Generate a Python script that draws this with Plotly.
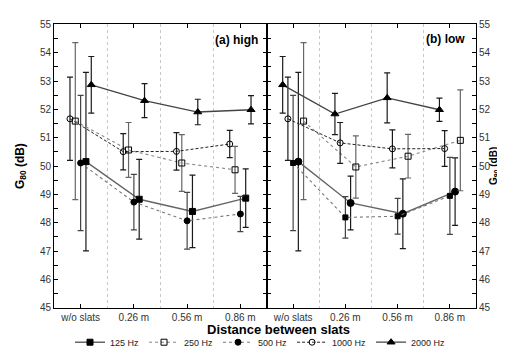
import plotly.graph_objects as go

W, H = 505, 349

categories = ["w/o slats", "0.26 m", "0.56 m", "0.86 m"]
freqs = ["125 Hz", "250 Hz", "500 Hz", "1000 Hz", "2000 Hz"]

# (a) high
high_125 = [50.16, 48.83, 48.40, 48.87]
high_125_err = [3.15, 1.41, 1.28, 1.03]
high_250 = [51.59, 50.57, 50.11, 49.87]
high_250_err = [2.77, 0.97, 1.00, 0.83]
high_500 = [50.11, 48.73, 48.07, 48.31]
high_500_err = [2.39, 0.98, 1.00, 0.62]
high_1000 = [51.67, 50.51, 50.52, 50.78]
high_1000_err = [1.47, 0.64, 0.66, 0.48]
high_2000 = [52.87, 52.31, 51.91, 51.99]
high_2000_err = [1.00, 0.60, 0.45, 0.50]

# (b) low
low_125 = [50.16, 48.70, 48.32, 49.10]
low_125_err = [3.15, 0.95, 1.23, 1.19]
low_250 = [51.59, 49.97, 50.35, 50.91]
low_250_err = [2.77, 1.10, 0.77, 1.78]
low_500 = [50.11, 48.19, 48.23, 48.95]
low_500_err = [2.39, 0.73, 0.63, 1.36]
low_1000 = [51.67, 50.82, 50.61, 50.62]
low_1000_err = [1.47, 0.72, 0.67, 0.63]
low_2000 = [52.87, 51.84, 52.41, 51.99]
low_2000_err = [1.00, 0.73, 0.88, 0.41]

high = {"125 Hz": (high_125, high_125_err), "250 Hz": (high_250, high_250_err),
        "500 Hz": (high_500, high_500_err), "1000 Hz": (high_1000, high_1000_err),
        "2000 Hz": (high_2000, high_2000_err)}
low = {"125 Hz": (low_125, low_125_err), "250 Hz": (low_250, low_250_err),
       "500 Hz": (low_500, low_500_err), "1000 Hz": (low_1000, low_1000_err),
       "2000 Hz": (low_2000, low_2000_err)}

# styles
line_style = {
    "125 Hz": dict(color="#666666", width=1.4, dash="solid"),
    "250 Hz": dict(color="#888888", width=1.1, dash="dot"),
    "500 Hz": dict(color="#777777", width=1.1, dash="dot"),
    "1000 Hz": dict(color="#222222", width=1.0, dash="3px,2px"),
    "2000 Hz": dict(color="#444444", width=1.3, dash="solid"),
}
err_color = {"125 Hz": "#1a1a1a", "250 Hz": "#666666", "500 Hz": "#444444",
             "1000 Hz": "#1a1a1a", "2000 Hz": "#1a1a1a"}
marker_high = {
    "125 Hz": dict(symbol="square", size=6, color="black"),
    "250 Hz": dict(symbol="square-open", size=6, color="black"),
    "500 Hz": dict(symbol="circle", size=6, color="black"),
    "1000 Hz": dict(symbol="circle-open", size=6, color="black"),
    "2000 Hz": dict(symbol="triangle-up", size=7, color="black"),
}
marker_low = {
    "125 Hz": dict(symbol="circle", size=7, color="black"),
    "250 Hz": dict(symbol="square-open", size=6, color="black"),
    "500 Hz": dict(symbol="square", size=5, color="black"),
    "1000 Hz": dict(symbol="circle-open", size=6, color="black"),
    "2000 Hz": dict(symbol="triangle-up", size=7, color="black"),
}
offs_high = {"1000 Hz": -0.2, "250 Hz": -0.1, "500 Hz": 0.0, "125 Hz": 0.1, "2000 Hz": 0.2}
offs_low = {"2000 Hz": -0.2, "1000 Hz": -0.1, "500 Hz": 0.0, "125 Hz": 0.1, "250 Hz": 0.2}

fig = go.Figure()
centers = [i + 0.5 for i in range(len(categories))]

for data, markers, offs, xa, ya, show in [
        (high, marker_high, offs_high, "x", "y", True),
        (low, marker_low, offs_low, "x2", "y2", False)]:
    for f in freqs:
        vals, errs = data[f]
        fig.add_trace(go.Scatter(
            x=[c + offs[f] for c in centers], y=vals,
            mode="lines+markers", name=f, legendgroup=f, showlegend=show,
            line=line_style[f],
            marker=dict(**markers[f], line=dict(color="black", width=1)),
            error_y=dict(type="data", array=errs, visible=True,
                         color=err_color[f], thickness=1.2, width=3),
            xaxis=xa, yaxis=ya))

ydom = [1 - 308 / H, 1 - 12 / H]
common_x = dict(range=[0, 4], tickmode="array", tickvals=centers, ticktext=categories,
                ticks="inside", ticklen=4, tickcolor="black", showline=True,
                linecolor="black", linewidth=1, mirror="ticks", showgrid=False,
                zeroline=False, tickfont=dict(size=10, color="#333333"),
                minor=dict(tickmode="array", tickvals=[1, 2, 3], showgrid=True,
                           gridcolor="#c8c8c8", griddash="dot", gridwidth=1, ticks=""))
common_y = dict(range=[45, 55], dtick=1, ticks="inside", ticklen=4, tickcolor="black",
                showline=True, linecolor="black", linewidth=1, mirror="allticks",
                showgrid=False, zeroline=False, tickfont=dict(size=10, color="#333333"),
                minor=dict(dtick=0.5, ticks="inside", ticklen=4, tickcolor="black"))

fig.update_layout(
    width=W, height=H, margin=dict(l=0, r=0, t=0, b=0),
    paper_bgcolor="white", plot_bgcolor="white",
    font=dict(family="Liberation Sans, Arial, sans-serif", color="black"),
    xaxis=dict(domain=[46 / W, 259 / W], anchor="y", **common_x),
    xaxis2=dict(domain=[259 / W, 468 / W], anchor="y2", **common_x),
    yaxis=dict(domain=ydom, anchor="x", side="left", **common_y),
    yaxis2=dict(domain=ydom, anchor="x2", side="right", **common_y),
    legend=dict(orientation="h", x=0.5, xanchor="center", y=1 - 344 / H, yanchor="middle",
                font=dict(size=9, color="#222222"), itemwidth=30,
                bgcolor="rgba(0,0,0,0)", tracegroupgap=0),
    showlegend=True,
)

annos = [
    dict(text="<b>Distance between slats</b>", x=270 / W, y=1 - 331 / H,
         font=dict(size=13), textangle=0),
    dict(text="<b>G<sub>80</sub> (dB)</b>", x=13 / W, y=1 - 160 / H,
         font=dict(size=12), textangle=-90),
    dict(text="<b>G<sub>80</sub> (dB)</b>", x=486 / W, y=1 - 160 / H,
         font=dict(size=10), textangle=-90),
    dict(text="<b>(a) high</b>", x=228 / W, y=1 - 28 / H, font=dict(size=12), textangle=0),
    dict(text="<b>(b) low</b>", x=437 / W, y=1 - 27 / H, font=dict(size=12), textangle=0),
]
for a in annos:
    fig.add_annotation(xref="paper", yref="paper", showarrow=False,
                       xanchor="center", yanchor="middle", **a)

fig.write_html("out.html")
